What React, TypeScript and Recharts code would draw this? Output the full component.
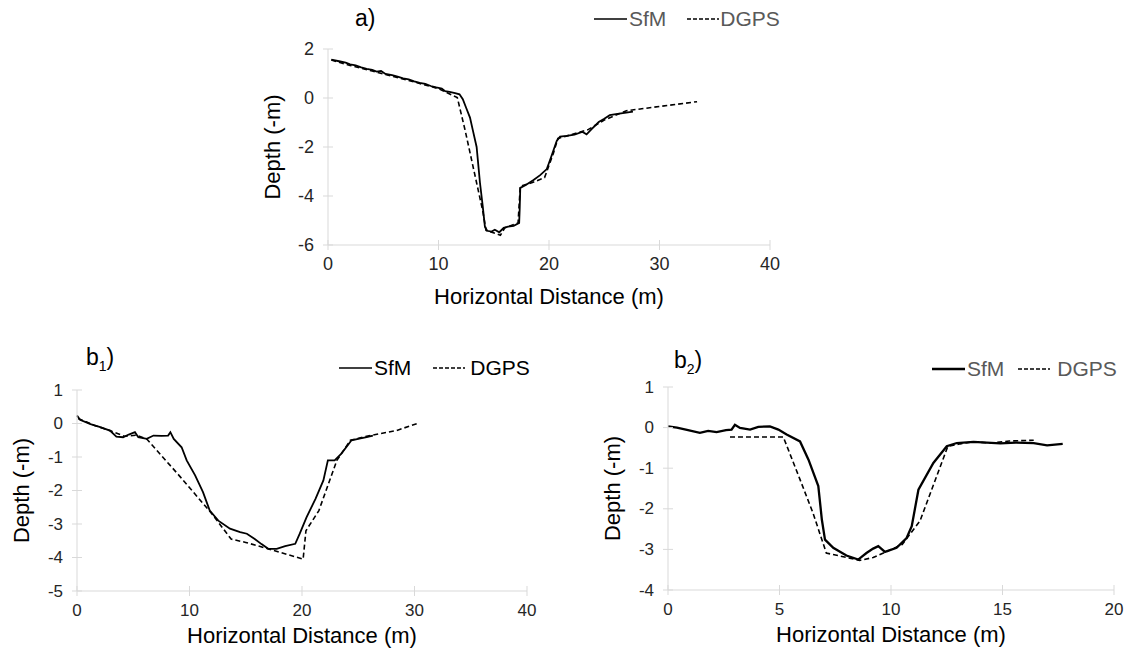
import React from 'react';
import { LineChart, Line, XAxis, YAxis, Legend } from 'recharts';

const FONT = '"Liberation Sans", Arial, sans-serif';

// panel a) profile
const aSfmX = [0.3, 1.0, 1.6, 2.0, 2.5, 3.0, 3.5, 4.0, 4.4, 4.8, 5.2, 5.8, 6.3, 6.8, 7.3, 7.8, 8.3, 8.8, 9.3, 9.8, 10.3, 10.6, 11.0, 11.5, 11.9, 12.2, 12.5, 12.85, 13.1, 13.45, 13.75, 14.0, 14.2, 14.4, 14.8, 15.1, 15.5, 15.9, 16.3, 16.8, 17.3, 17.35, 17.4, 17.9, 18.6, 19.2, 19.8, 20.2, 20.7, 21.0, 21.6, 22.3, 23.0, 23.4, 23.9, 24.5, 25.0, 25.5, 26.2, 27.0, 27.6];
const aSfmY = [1.57, 1.5, 1.44, 1.37, 1.33, 1.25, 1.19, 1.15, 1.08, 1.1, 0.98, 0.93, 0.87, 0.8, 0.76, 0.68, 0.62, 0.58, 0.49, 0.43, 0.38, 0.28, 0.25, 0.2, 0.15, -0.05, -0.4, -0.8, -1.3, -2.0, -3.45, -4.4, -5.25, -5.42, -5.45, -5.38, -5.48, -5.3, -5.25, -5.22, -5.1, -4.5, -3.67, -3.55, -3.35, -3.15, -2.9, -2.4, -1.75, -1.58, -1.55, -1.5, -1.38, -1.48, -1.25, -0.98, -0.85, -0.7, -0.65, -0.6, -0.56];
const aGpsX = [0.3, 2.0, 4.0, 6.0, 8.0, 10.0, 11.7, 12.4, 14.0, 14.3, 15.6, 16.0, 17.2, 17.4, 18.5, 19.6, 20.4, 20.8, 22.0, 23.5, 25.0, 27.0, 33.4];
const aGpsY = [1.55, 1.33, 1.1, 0.87, 0.63, 0.38, 0.02, -1.3, -4.6, -5.4, -5.6, -5.3, -5.1, -3.6, -3.45, -3.25, -2.25, -1.65, -1.5, -1.3, -0.9, -0.52, -0.15];

// panel b1) profile
const b1SfmX = [0, 0.27, 1.2, 2.0, 2.93, 3.5, 4.1, 4.6, 5.15, 5.45, 6.2, 6.8, 7.5, 8.1, 8.3, 8.6, 9.3, 9.75, 10.5, 11.2, 11.8, 12.56, 13.6, 14.5, 15.1, 15.8, 16.4, 17.0, 17.75, 18.5, 19.4, 19.8, 20.4, 21.2, 21.9, 22.3, 22.9, 23.5, 24.4, 25.1, 25.75, 26.3];
const b1SfmY = [0.24, 0.11, -0.02, -0.1, -0.21, -0.39, -0.41, -0.33, -0.26, -0.41, -0.46, -0.36, -0.37, -0.36, -0.26, -0.46, -0.71, -1.1, -1.55, -2.05, -2.6, -2.9, -3.14, -3.24, -3.29, -3.45, -3.6, -3.74, -3.74, -3.66, -3.59, -3.29, -2.8, -2.25, -1.7, -1.1, -1.1, -0.9, -0.5, -0.45, -0.41, -0.36];
const b1GpsX = [0.1, 1.5, 3.0, 4.2, 5.3, 6.2, 9.2, 12.0, 13.7, 15.0, 17.1, 20.1, 20.35, 21.5, 23.1, 24.3, 25.5, 27.0, 28.5, 30.4];
const b1GpsY = [0.15, -0.05, -0.22, -0.38, -0.35, -0.46, -1.6, -2.7, -3.45, -3.55, -3.75, -4.05, -3.2, -2.6, -1.1, -0.5, -0.4, -0.3, -0.2, 0.02];

// panel b2) profile
const b2SfmX = [0, 0.4, 0.8, 1.43, 1.8, 2.18, 2.6, 2.85, 3.0, 3.23, 3.68, 4.05, 4.57, 4.95, 5.32, 5.92, 6.3, 6.74, 6.9, 7.04, 7.41, 8.0, 8.53, 8.9, 9.2, 9.43, 9.73, 10.25, 10.7, 10.93, 11.23, 11.9, 12.5, 12.95, 13.7, 14.9, 15.6, 16.4, 17.0, 17.7];
const b2SfmY = [0.03, 0.0, -0.05, -0.13, -0.08, -0.11, -0.06, -0.05, 0.07, -0.01, -0.05, 0.02, 0.03, -0.05, -0.17, -0.34, -0.79, -1.44, -2.27, -2.76, -2.96, -3.15, -3.25, -3.09, -2.98, -2.92, -3.06, -2.96, -2.72, -2.43, -1.53, -0.87, -0.46, -0.38, -0.35, -0.39, -0.37, -0.38, -0.44, -0.4];
const b2GpsX = [2.78, 5.17, 5.9, 6.5, 7.1, 8.6, 9.2, 10.5, 11.3, 12.55, 13.1, 13.7, 14.5, 15.3, 16.4];
const b2GpsY = [-0.23, -0.23, -1.25, -2.1, -3.09, -3.27, -3.2, -2.88, -2.3, -0.46, -0.4, -0.35, -0.38, -0.33, -0.31];

const aXTicks = [0, 10, 20, 30, 40];
const aYTicks = [-6, -4, -2, 0, 2];
const b1XTicks = [0, 10, 20, 30, 40];
const b1YTicks = [-5, -4, -3, -2, -1, 0, 1];
const b2XTicks = [0, 5, 10, 15, 20];
const b2YTicks = [-4, -3, -2, -1, 0, 1];

const zip = (xs: number[], ys: number[]) => xs.map((x, i) => ({ x, y: ys[i] }));

const AXIS = '#d9d9d9';

const makeYTick = (size: number) => (props: any) => {
  const { x, y, payload } = props;
  return (
    <g>
      <line x1={x - 5} x2={x + 5} y1={y} y2={y} stroke={AXIS} />
      <text x={x - 14} y={y} textAnchor="end" dominantBaseline="central" fontSize={size} fill="#262626" fontFamily={FONT}>
        {payload.value}
      </text>
    </g>
  );
};

const makeXTick = (size: number, gap: number) => (props: any) => {
  const { x, y, payload } = props;
  return (
    <g>
      <line x1={x} x2={x} y1={y - 5} y2={y + 5} stroke={AXIS} />
      <text x={x} y={y + gap} textAnchor="middle" dominantBaseline="central" fontSize={size} fill="#262626" fontFamily={FONT}>
        {payload.value}
      </text>
    </g>
  );
};

const xTitle = (dy: number, size: number) => (props: any) => {
  const { viewBox } = props;
  return (
    <text x={viewBox.x + viewBox.width / 2} y={viewBox.y + dy} textAnchor="middle" dominantBaseline="central" fontSize={size} fill="#000" fontFamily={FONT}>
      Horizontal Distance (m)
    </text>
  );
};

const yTitle = (dx: number, size: number) => (props: any) => {
  const { viewBox } = props;
  const cx = viewBox.x + dx;
  const cy = viewBox.y + viewBox.height / 2;
  return (
    <text x={cx} y={cy} transform={`rotate(-90, ${cx}, ${cy})`} textAnchor="middle" dominantBaseline="central" fontSize={size} fill="#000" fontFamily={FONT}>
      Depth (-m)
    </text>
  );
};

interface LegendProps {
  textColor: string;
  solidWidth: number;
  midGap: number;
  dashGap: number;
}

const LegendRow = ({ textColor, solidWidth, midGap, dashGap }: LegendProps) => (
  <div style={{ display: 'flex', alignItems: 'center', fontFamily: FONT, fontSize: 21, color: textColor, whiteSpace: 'nowrap', lineHeight: '24px' }}>
    <svg width={33} height={10}>
      <line x1={0} x2={33} y1={5} y2={5} stroke="#000" strokeWidth={solidWidth} />
    </svg>
    <span style={{ marginLeft: 2 }}>SfM</span>
    <svg width={32} height={10} style={{ marginLeft: midGap }}>
      <line x1={0} x2={32} y1={5} y2={5} stroke="#000" strokeWidth={1.5} strokeDasharray="4 2" />
    </svg>
    <span style={{ marginLeft: dashGap }}>DGPS</span>
  </div>
);

interface PanelProps {
  left: number;
  top: number;
  width: number;
  height: number;
  margin: { top: number; right: number; bottom: number; left: number };
  sfm: { x: number; y: number }[];
  gps: { x: number; y: number }[];
  xTicks: number[];
  yTicks: number[];
  tickSize: number;
  titleSize: number;
  xTitleDy: number;
  legendPos: { left: number; top: number };
  legend: LegendProps;
  sfmWidth: number;
}

function Panel(p: PanelProps) {
  const xDomain = [p.xTicks[0], p.xTicks[p.xTicks.length - 1]];
  const yDomain = [p.yTicks[0], p.yTicks[p.yTicks.length - 1]];
  return (
    <div style={{ position: 'absolute', left: p.left, top: p.top }}>
      <LineChart width={p.width} height={p.height} margin={p.margin}>
        <XAxis
          type="number"
          dataKey="x"
          domain={xDomain}
          ticks={p.xTicks}
          interval={0}
          height={40}
          tickSize={0}
          tickMargin={0}
          axisLine={{ stroke: AXIS }}
          tickLine={false}
          tick={makeXTick(p.tickSize, 19)}
          label={xTitle(p.xTitleDy, p.titleSize)}
          allowDuplicatedCategory={false}
        />
        <YAxis
          type="number"
          domain={yDomain}
          ticks={p.yTicks}
          interval={0}
          width={70}
          tickSize={0}
          tickMargin={0}
          axisLine={{ stroke: AXIS }}
          tickLine={false}
          tick={makeYTick(p.tickSize)}
          label={yTitle(14.5, p.titleSize)}
        />
        <Legend
          layout="horizontal"
          verticalAlign="middle"
          align="center"
          wrapperStyle={{ left: p.legendPos.left, top: p.legendPos.top, width: 'auto' }}
          content={() => <LegendRow {...p.legend} />}
        />
        <Line data={p.sfm} dataKey="y" name="SfM" type="linear" stroke="#000" strokeWidth={p.sfmWidth} dot={false} isAnimationActive={false} />
        <Line data={p.gps} dataKey="y" name="DGPS" type="linear" stroke="#000" strokeWidth={1.6} strokeDasharray="5 3" dot={false} isAnimationActive={false} />
      </LineChart>
    </div>
  );
}

const labelStyle: React.CSSProperties = { position: 'absolute', fontFamily: FONT, fontSize: 23, color: '#000', lineHeight: '26px' };

export default function App() {
  return (
    <div style={{ position: 'absolute', left: 0, top: 0, width: 1130, height: 648, background: '#fff', overflow: 'hidden' }}>
      <Panel
        left={250}
        top={0}
        width={560}
        height={310}
        margin={{ top: 49, right: 40, bottom: 25, left: 8 }}
        sfm={zip(aSfmX, aSfmY)}
        gps={zip(aGpsX, aGpsY)}
        xTicks={aXTicks}
        yTicks={aYTicks}
        tickSize={18}
        titleSize={22}
        xTitleDy={51}
        legendPos={{ left: 344, top: 7 }}
        legend={{ textColor: '#595959', solidWidth: 1.5, midGap: 21, dashGap: 1 }}
        sfmWidth={1.8}
      />
      <Panel
        left={0}
        top={330}
        width={560}
        height={318}
        margin={{ top: 60, right: 33, bottom: 17, left: 7 }}
        sfm={zip(b1SfmX, b1SfmY)}
        gps={zip(b1GpsX, b1GpsY)}
        xTicks={b1XTicks}
        yTicks={b1YTicks}
        tickSize={17}
        titleSize={22}
        xTitleDy={44}
        legendPos={{ left: 339, top: 26 }}
        legend={{ textColor: '#000', solidWidth: 1.5, midGap: 22, dashGap: 5 }}
        sfmWidth={1.8}
      />
      <Panel
        left={590}
        top={330}
        width={540}
        height={318}
        margin={{ top: 57, right: 16, bottom: 18, left: 8 }}
        sfm={zip(b2SfmX, b2SfmY)}
        gps={zip(b2GpsX, b2GpsY)}
        xTicks={b2XTicks}
        yTicks={b2YTicks}
        tickSize={17}
        titleSize={22}
        xTitleDy={44}
        legendPos={{ left: 342, top: 27 }}
        legend={{ textColor: '#595959', solidWidth: 2.5, midGap: 14, dashGap: 7 }}
        sfmWidth={2.3}
      />
      <div style={{ ...labelStyle, left: 355, top: 5 }}>a)</div>
      <div style={{ ...labelStyle, left: 86, top: 344 }}>
        b<sub style={{ fontSize: 14 }}>1</sub>)
      </div>
      <div style={{ ...labelStyle, left: 674, top: 347 }}>
        b<sub style={{ fontSize: 14 }}>2</sub>)
      </div>
    </div>
  );
}
